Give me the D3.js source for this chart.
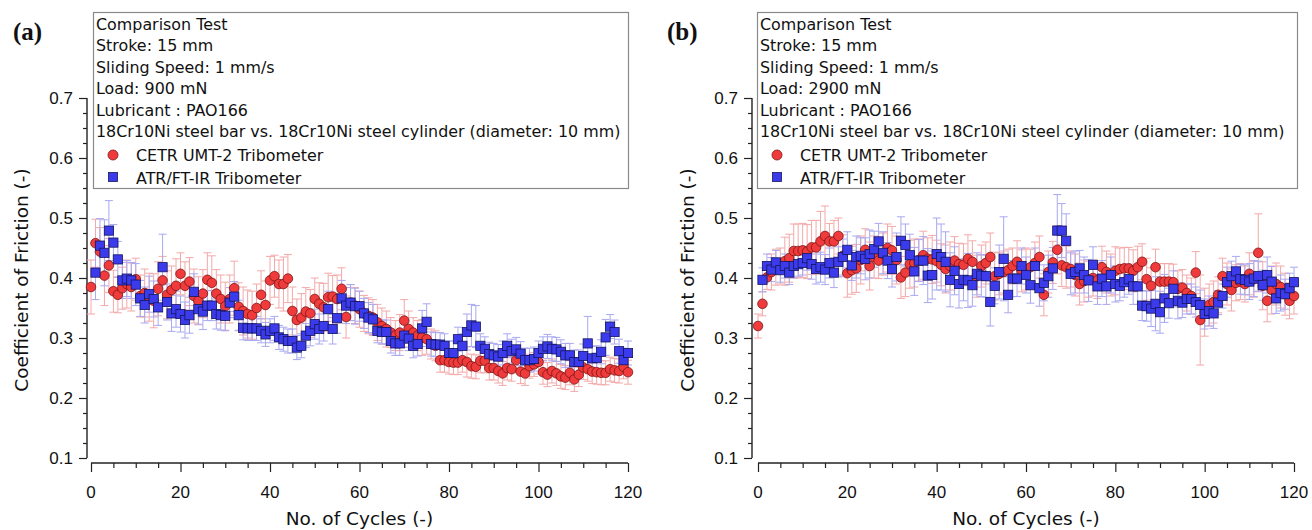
<!DOCTYPE html>
<html>
<head>
<meta charset="utf-8">
<script src="https://cdn.jsdelivr.net/npm/d3@7"></script>
<style>
body { margin: 0; background: #fff; }
svg { display: block; font-family: "DejaVu Sans", Verdana, sans-serif; }
.tickLabels { font-size: 17px; fill: #111; }
.axisTitle { font-size: 18.5px; fill: #111; }
.infoText { font-size: 15.9px; fill: #111; }
.panelLabel { font-family: "Liberation Serif", "Times New Roman", serif; font-weight: bold; font-size: 25px; fill: #111; }
</style>
</head>
<body>
<svg id="chart" width="1312" height="530"></svg>
<script>
// info box text
const infoA = ['Comparison Test', 'Stroke: 15 mm', 'Sliding Speed: 1 mm/s', 'Load: 900 mN', 'Lubricant : PAO166',
	'18Cr10Ni steel bar vs. 18Cr10Ni steel cylinder (diameter: 10 mm)']
const infoB = ['Comparison Test', 'Stroke: 15 mm', 'Sliding Speed: 1 mm/s', 'Load: 2900 mN', 'Lubricant : PAO166',
	'18Cr10Ni steel bar vs. 18Cr10Ni steel cylinder (diameter: 10 mm)']
const seriesNames = ['CETR UMT-2 Tribometer', 'ATR/FT-IR Tribometer']

const xTicks = [0, 20, 40, 60, 80, 100, 120]
const yTicks = [0.1, 0.2, 0.3, 0.4, 0.5, 0.6, 0.7]

// (a) 900 mN -- CETR, cycles 0..120
const cetrA = [0.385, 0.458, 0.444, 0.404, 0.421, 0.378, 0.372, 0.383, 0.39, 0.385, 0.398,
	0.37, 0.375, 0.368, 0.362, 0.382, 0.396, 0.372, 0.38, 0.387, 0.407,
	0.387, 0.394, 0.37, 0.362, 0.374, 0.397, 0.392, 0.374, 0.365, 0.353,
	0.365, 0.383, 0.352, 0.345, 0.34, 0.338, 0.35, 0.372, 0.355, 0.396,
	0.403, 0.39, 0.39, 0.399, 0.345, 0.33, 0.334, 0.344, 0.341, 0.365,
	0.357, 0.351, 0.368, 0.369, 0.365, 0.382, 0.335, 0.359, 0.354, 0.348,
	0.341, 0.337, 0.334, 0.326, 0.32, 0.315, 0.309, 0.304, 0.309, 0.329,
	0.315, 0.309, 0.304, 0.301, 0.298, 0.29, 0.287, 0.263, 0.263, 0.26,
	0.259, 0.259, 0.263, 0.26, 0.253, 0.252, 0.262, 0.262, 0.25, 0.25,
	0.245, 0.241, 0.25, 0.248, 0.263, 0.244, 0.241, 0.253, 0.256, 0.26,
	0.243, 0.239, 0.245, 0.241, 0.236, 0.234, 0.242, 0.231, 0.239, 0.251,
	0.248, 0.244, 0.243, 0.242, 0.242, 0.248, 0.246, 0.245, 0.252, 0.243]
const cetrErrA = [0.045, 0.04, 0.04, 0.05, 0.045, 0.035, 0.03, 0.035, 0.04, 0.04, 0.035,
	0.035, 0.04, 0.04, 0.045, 0.045, 0.04, 0.04, 0.04, 0.045, 0.035,
	0.04, 0.04, 0.045, 0.04, 0.04, 0.045, 0.045, 0.04, 0.04, 0.04,
	0.04, 0.045, 0.04, 0.04, 0.04, 0.04, 0.04, 0.04, 0.04, 0.04,
	0.035, 0.04, 0.045, 0.04, 0.04, 0.035, 0.04, 0.04, 0.04, 0.035,
	0.035, 0.04, 0.04, 0.035, 0.04, 0.035, 0.035, 0.03, 0.03, 0.03,
	0.03, 0.03, 0.03, 0.03, 0.03, 0.03, 0.025, 0.025, 0.03, 0.035,
	0.03, 0.025, 0.025, 0.03, 0.025, 0.025, 0.025, 0.02, 0.02, 0.02,
	0.02, 0.02, 0.02, 0.025, 0.02, 0.02, 0.02, 0.02, 0.02, 0.02,
	0.02, 0.02, 0.02, 0.02, 0.02, 0.02, 0.02, 0.02, 0.02, 0.02,
	0.02, 0.02, 0.02, 0.02, 0.02, 0.02, 0.02, 0.02, 0.02, 0.02,
	0.02, 0.02, 0.02, 0.02, 0.02, 0.02, 0.02, 0.02, 0.02, 0.02]
// (a) ATR/FT-IR, cycles 1..120
const atrA = [0.409, 0.454, 0.442, 0.479, 0.459, 0.431, 0.396, 0.399, 0.396, 0.389,
	0.366, 0.355, 0.373, 0.365, 0.351, 0.418, 0.36, 0.341, 0.348, 0.34,
	0.33, 0.338, 0.377, 0.348, 0.344, 0.354, 0.354, 0.34, 0.338, 0.337,
	0.359, 0.369, 0.338, 0.317, 0.316, 0.316, 0.316, 0.312, 0.306, 0.312,
	0.316, 0.301, 0.298, 0.295, 0.295, 0.284, 0.287, 0.304, 0.312, 0.323,
	0.315, 0.32, 0.348, 0.315, 0.333, 0.366, 0.354, 0.359, 0.353, 0.353,
	0.341, 0.334, 0.331, 0.312, 0.31, 0.31, 0.295, 0.291, 0.291, 0.304,
	0.299, 0.287, 0.29, 0.316, 0.327, 0.29, 0.289, 0.289, 0.287, 0.275,
	0.275, 0.298, 0.287, 0.31, 0.321, 0.319, 0.287, 0.282, 0.273, 0.271,
	0.269, 0.275, 0.287, 0.278, 0.281, 0.274, 0.263, 0.263, 0.265, 0.275,
	0.282, 0.286, 0.282, 0.281, 0.277, 0.271, 0.271, 0.26, 0.26, 0.27,
	0.291, 0.266, 0.267, 0.277, 0.301, 0.319, 0.31, 0.278, 0.263, 0.275]
const atrErrA = [0.045, 0.045, 0.055, 0.05, 0.03, 0.03, 0.03, 0.03, 0.03, 0.035,
	0.03, 0.03, 0.03, 0.03, 0.03, 0.055, 0.03, 0.03, 0.03, 0.03,
	0.03, 0.03, 0.03, 0.025, 0.03, 0.025, 0.025, 0.025, 0.025, 0.025,
	0.025, 0.025, 0.025, 0.02, 0.02, 0.02, 0.02, 0.02, 0.02, 0.02,
	0.02, 0.02, 0.02, 0.02, 0.02, 0.02, 0.02, 0.02, 0.025, 0.025,
	0.025, 0.025, 0.03, 0.025, 0.025, 0.03, 0.03, 0.03, 0.03, 0.025,
	0.025, 0.025, 0.025, 0.02, 0.02, 0.02, 0.02, 0.02, 0.02, 0.02,
	0.02, 0.02, 0.02, 0.03, 0.03, 0.02, 0.02, 0.02, 0.02, 0.02,
	0.02, 0.02, 0.02, 0.03, 0.035, 0.035, 0.02, 0.02, 0.02, 0.02,
	0.02, 0.02, 0.02, 0.02, 0.02, 0.02, 0.02, 0.02, 0.02, 0.02,
	0.02, 0.02, 0.02, 0.02, 0.02, 0.02, 0.02, 0.02, 0.02, 0.02,
	0.045, 0.02, 0.02, 0.02, 0.03, 0.02, 0.02, 0.02, 0.02, 0.02]

// (b) 2900 mN -- CETR, cycles 0..120
const cetrB = [0.32, 0.357, 0.401, 0.41, 0.418, 0.42, 0.428, 0.433, 0.445, 0.445, 0.446,
	0.444, 0.451, 0.451, 0.461, 0.47, 0.461, 0.461, 0.47, 0.437, 0.408,
	0.413, 0.416, 0.43, 0.447, 0.42, 0.435, 0.429, 0.44, 0.45, 0.446,
	0.43, 0.401, 0.409, 0.423, 0.425, 0.43, 0.438, 0.432, 0.431, 0.428,
	0.422, 0.415, 0.42, 0.429, 0.423, 0.422, 0.432, 0.427, 0.403, 0.42,
	0.425, 0.435, 0.403, 0.407, 0.41, 0.413, 0.42, 0.427, 0.412, 0.415,
	0.418, 0.425, 0.435, 0.372, 0.41, 0.426, 0.447, 0.421, 0.418, 0.415,
	0.405, 0.39, 0.395, 0.398, 0.4, 0.396, 0.418, 0.41, 0.405, 0.412,
	0.415, 0.416, 0.416, 0.412, 0.418, 0.427, 0.398, 0.387, 0.418, 0.394,
	0.394, 0.394, 0.393, 0.382, 0.384, 0.375, 0.37, 0.409, 0.33, 0.343,
	0.355, 0.36, 0.372, 0.403, 0.39, 0.38, 0.392, 0.394, 0.39, 0.407,
	0.398, 0.442, 0.387, 0.362, 0.38, 0.39, 0.385, 0.373, 0.362, 0.37]
const cetrErrB = [0.02, 0.02, 0.02, 0.03, 0.03, 0.03, 0.04, 0.04, 0.045, 0.045, 0.045,
	0.045, 0.045, 0.045, 0.05, 0.05, 0.03, 0.035, 0.03, 0.035, 0.04,
	0.04, 0.04, 0.04, 0.035, 0.04, 0.035, 0.03, 0.035, 0.04, 0.04,
	0.04, 0.035, 0.04, 0.04, 0.04, 0.035, 0.04, 0.035, 0.04, 0.035,
	0.035, 0.04, 0.04, 0.04, 0.035, 0.035, 0.04, 0.035, 0.035, 0.035,
	0.035, 0.04, 0.04, 0.035, 0.035, 0.035, 0.03, 0.035, 0.035, 0.035,
	0.03, 0.035, 0.035, 0.035, 0.035, 0.035, 0.04, 0.035, 0.035, 0.03,
	0.035, 0.035, 0.035, 0.03, 0.03, 0.03, 0.035, 0.035, 0.035, 0.04,
	0.035, 0.035, 0.035, 0.035, 0.035, 0.03, 0.035, 0.03, 0.03, 0.03,
	0.03, 0.03, 0.03, 0.03, 0.03, 0.03, 0.03, 0.035, 0.075, 0.04,
	0.035, 0.035, 0.03, 0.03, 0.035, 0.035, 0.03, 0.03, 0.03, 0.035,
	0.03, 0.065, 0.04, 0.035, 0.04, 0.035, 0.035, 0.035, 0.03, 0.03]
// (b) ATR/FT-IR, cycles 1..120
const atrB = [0.397, 0.42, 0.414, 0.426, 0.413, 0.42, 0.409, 0.42, 0.423, 0.425,
	0.433, 0.423, 0.415, 0.418, 0.414, 0.425, 0.409, 0.427, 0.435, 0.447,
	0.421, 0.435, 0.437, 0.432, 0.44, 0.448, 0.461, 0.442, 0.429, 0.415,
	0.435, 0.462, 0.455, 0.438, 0.411, 0.429, 0.429, 0.404, 0.405, 0.44,
	0.435, 0.427, 0.397, 0.412, 0.39, 0.397, 0.396, 0.388, 0.407, 0.404,
	0.403, 0.36, 0.387, 0.41, 0.432, 0.372, 0.399, 0.399, 0.42, 0.405,
	0.388, 0.42, 0.383, 0.392, 0.403, 0.416, 0.479, 0.479, 0.462, 0.407,
	0.41, 0.416, 0.405, 0.396, 0.422, 0.386, 0.399, 0.386, 0.405, 0.39,
	0.387, 0.393, 0.398, 0.386, 0.386, 0.354, 0.353, 0.349, 0.357, 0.343,
	0.366, 0.358, 0.382, 0.362, 0.359, 0.365, 0.365, 0.36, 0.355, 0.34,
	0.345, 0.341, 0.359, 0.37, 0.393, 0.403, 0.411, 0.398, 0.397, 0.394,
	0.399, 0.403, 0.388, 0.405, 0.394, 0.366, 0.375, 0.373, 0.383, 0.393]
const atrErrB = [0.02, 0.02, 0.02, 0.02, 0.02, 0.02, 0.02, 0.02, 0.02, 0.02,
	0.02, 0.025, 0.025, 0.025, 0.025, 0.025, 0.025, 0.025, 0.03, 0.03,
	0.025, 0.035, 0.03, 0.035, 0.04, 0.03, 0.03, 0.035, 0.03, 0.03,
	0.04, 0.04, 0.035, 0.035, 0.04, 0.035, 0.04, 0.045, 0.04, 0.06,
	0.055, 0.05, 0.045, 0.04, 0.04, 0.035, 0.045, 0.035, 0.035, 0.035,
	0.035, 0.04, 0.03, 0.045, 0.07, 0.03, 0.03, 0.03, 0.03, 0.03,
	0.03, 0.03, 0.03, 0.03, 0.035, 0.035, 0.06, 0.045, 0.045, 0.035,
	0.035, 0.03, 0.03, 0.035, 0.03, 0.03, 0.03, 0.03, 0.03, 0.03,
	0.025, 0.025, 0.025, 0.03, 0.03, 0.025, 0.025, 0.03, 0.045, 0.035,
	0.04, 0.025, 0.03, 0.03, 0.025, 0.025, 0.025, 0.025, 0.025, 0.025,
	0.025, 0.025, 0.02, 0.02, 0.025, 0.025, 0.025, 0.025, 0.025, 0.03,
	0.03, 0.025, 0.025, 0.03, 0.025, 0.025, 0.03, 0.025, 0.025, 0.025]

const colors = {
	red: '#ef3b3b', redEdge: '#7d1414', redBar: '#f3a8a8',
	blue: '#3b3bec', blueEdge: '#15155e', blueBar: '#a8a8f0'
}

const svg = d3.select('#chart')

function drawPanel(p) {
	const g = svg.append('g').attr('class', 'panel')
	const x = d3.scaleLinear().domain([0, 120]).range([p.x0, p.x1])
	const y = d3.scaleLinear().domain([0.1, 0.7]).range([458, 98])

	// y axis: major + minor ticks, outward
	const yAxis = g.append('g').attr('transform', `translate(${p.yAxisX},0)`)
	yAxis.call(d3.axisLeft(y).tickValues(d3.range(0.1, 0.7001, 0.025)).tickSize(4).tickFormat(''))
	yAxis.call(s => s.select('.domain').attr('d', `M0,${y(0.7)}V${y(0.1)}`).attr('stroke', '#222').attr('stroke-width', 1.4))
	yAxis.selectAll('.tick line').attr('stroke', '#222').attr('stroke-width', 1.2)
	yAxis.selectAll('.tick').filter(d => yTicks.some(t => Math.abs(t - d) < 1e-6)).select('line').attr('x2', -8)
	yAxis.selectAll('text.tickLabels').data(yTicks).enter().append('text')
		.attr('class', 'tickLabels')
		.attr('x', -14).attr('y', d => y(d)).attr('dy', '0.35em')
		.attr('text-anchor', 'end')
		.text(d3.format('.1f'))

	// x axis
	const xAxis = g.append('g').attr('transform', 'translate(0,463)')
	xAxis.call(d3.axisBottom(x).tickValues(d3.range(0, 121, 5)).tickSize(5).tickFormat(''))
	xAxis.call(s => s.select('.domain').attr('d', `M${x(0)},0H${x(120)}`).attr('stroke', '#222').attr('stroke-width', 1.4))
	xAxis.selectAll('.tick line').attr('stroke', '#222').attr('stroke-width', 1.2)
	xAxis.selectAll('.tick').filter(d => d % 20 === 0).select('line').attr('y2', 9)
	xAxis.selectAll('text.tickLabels').data(xTicks).enter().append('text')
		.attr('class', 'tickLabels')
		.attr('x', d => x(d)).attr('y', 35)
		.attr('text-anchor', 'middle')
		.text(d => d)

	g.append('text').attr('class', 'axisTitle')
		.attr('x', (p.x0 + p.x1) / 2).attr('y', 525)
		.attr('text-anchor', 'middle')
		.text('No. of Cycles (-)')
	g.append('text').attr('class', 'axisTitle')
		.attr('transform', `translate(${p.titleX},280) rotate(-90)`)
		.attr('text-anchor', 'middle')
		.text('Coefficient of Friction (-)')

	g.append('text').attr('class', 'panelLabel')
		.attr('x', p.labelX).attr('y', 40)
		.text(p.label)

	// error bars, then markers (blue on top)
	const redData = p.cetr.map((v, i) => ({ c: i, v: v, e: p.cetrErr[i] }))
	const blueData = p.atr.map((v, i) => ({ c: i + 1, v: v, e: p.atrErr[i] }))

	function errorBars(data, col) {
		const eb = g.append('g').attr('stroke', col).attr('stroke-width', 1).attr('fill', 'none')
		eb.selectAll('path').data(data).enter().append('path')
			.attr('d', d => {
				const cx = x(d.c), y0 = y(d.v - d.e), y1 = y(d.v + d.e)
				return `M${cx},${y0}V${y1}M${cx - 4},${y1}H${cx + 4}M${cx - 4},${y0}H${cx + 4}`
			})
	}
	errorBars(redData, colors.redBar)
	errorBars(blueData, colors.blueBar)

	g.append('g').selectAll('circle').data(redData).enter().append('circle')
		.attr('cx', d => x(d.c)).attr('cy', d => y(d.v)).attr('r', 4.8)
		.attr('fill', colors.red).attr('stroke', colors.redEdge).attr('stroke-width', 0.8)
	g.append('g').selectAll('rect').data(blueData).enter().append('rect')
		.attr('x', d => x(d.c) - 4.6).attr('y', d => y(d.v) - 4.6)
		.attr('width', 9.2).attr('height', 9.2)
		.attr('fill', colors.blue).attr('stroke', colors.blueEdge).attr('stroke-width', 0.8)

	// info box / legend
	const box = g.append('g')
	box.append('rect')
		.attr('x', p.box[0] + 0.5).attr('y', 12.5)
		.attr('width', p.box[1] - p.box[0]).attr('height', 176)
		.attr('fill', '#fff').attr('stroke', '#8a8a8a').attr('stroke-width', 1.2)
	box.selectAll('text.info').data(p.info).enter().append('text')
		.attr('class', 'infoText')
		.attr('x', p.box[0] + 3).attr('y', (d, i) => 30 + i * 21.4)
		.text(d => d)
	const lx = p.box[0] + 20
	box.append('circle').attr('cx', lx).attr('cy', 155).attr('r', 5)
		.attr('fill', colors.red).attr('stroke', colors.redEdge).attr('stroke-width', 0.8)
	box.append('rect').attr('x', lx - 4.5).attr('y', 172.5).attr('width', 9).attr('height', 9)
		.attr('fill', colors.blue).attr('stroke', colors.blueEdge).attr('stroke-width', 0.8)
	box.selectAll('text.entry').data(seriesNames).enter().append('text')
		.attr('class', 'infoText')
		.attr('x', p.box[0] + 43).attr('y', (d, i) => 161 + i * 22.5)
		.text(d => d)
}

drawPanel({ label: '(a)', labelX: 13, titleX: 28, yAxisX: 87, x0: 91, x1: 628, box: [93, 628],
	info: infoA, cetr: cetrA, cetrErr: cetrErrA, atr: atrA, atrErr: atrErrA })
drawPanel({ label: '(b)', labelX: 667, titleX: 694, yAxisX: 752, x0: 758, x1: 1294, box: [757, 1297],
	info: infoB, cetr: cetrB, cetrErr: cetrErrB, atr: atrB, atrErr: atrErrB })
</script>
</body>
</html>
